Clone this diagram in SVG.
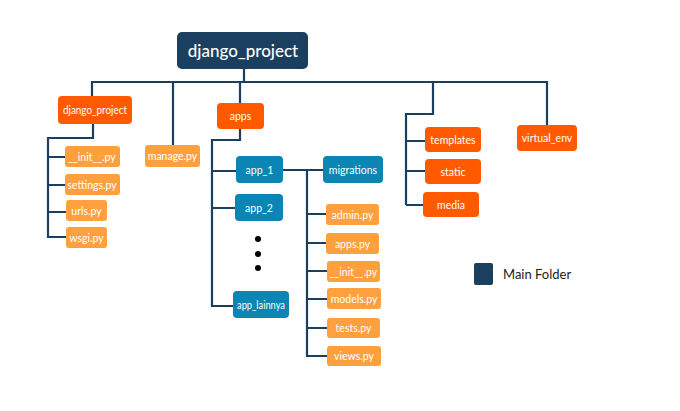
<svg xmlns="http://www.w3.org/2000/svg" width="680" height="411" viewBox="0 0 680 411">
<style>
.ln{fill:none;stroke:#1b3f5f;stroke-width:2.2;stroke-linejoin:miter}
.main{fill:#1b3f5f}
.or{fill:#ff5a00}
.lo{fill:#ffa03f}
.bl{fill:#0a85b4}
text{font-family:"Lato","Open Sans",sans-serif;fill:#fff;text-anchor:middle;dominant-baseline:central;font-size:10.5px}
.t-main{font-size:17px;font-weight:500}
.leg{fill:#222;text-anchor:start;font-size:13px}
</style>
<rect width="680" height="411" fill="#fff"/>
<g id="connectors">
<path class="ln" d="M244 69V82M92 96V82H547V125M173 82V145M240 82V103M433 82V114H406V205M406 141H425M406 171H425M406 205H423"/>
<path class="ln" d="M93 124V138H48V237H66M48 157H65M48 185H65M48 212H66"/>
<path class="ln" d="M240 129V140H212V306H233M212 171H236M212 208H235"/>
<path class="ln" d="M283 170H323M307 170V356H327M307 214H326M307 243H326M307 271H327M307 299H327M307 328H327"/>
</g>
<g id="n-root"><rect class="main" x="177" y="32" width="131" height="37" rx="5"/><text class="t-main" x="243" y="50">django_project</text></g>
<g id="n-django_project"><rect class="or" x="58" y="96" width="74" height="28" rx="4"/><text x="95" y="110" textLength="64" lengthAdjust="spacingAndGlyphs">django_project</text></g>
<g id="n-init1"><rect class="lo" x="65" y="146" width="55" height="21" rx="3"/><text x="92" y="156.5">__init__.py</text></g>
<g id="n-settings"><rect class="lo" x="65" y="174" width="55" height="21" rx="3"/><text x="92" y="184.5">settings.py</text></g>
<g id="n-urls"><rect class="lo" x="66" y="200" width="41" height="21" rx="3"/><text x="86.5" y="210.5">urls.py</text></g>
<g id="n-wsgi"><rect class="lo" x="66" y="227" width="41" height="21" rx="3"/><text x="86.5" y="237.5">wsgi.py</text></g>
<g id="n-manage"><rect class="lo" x="145" y="145" width="55" height="22" rx="3"/><text x="172.5" y="156">manage.py</text></g>
<g id="n-apps"><rect class="or" x="217" y="103" width="47" height="26" rx="4"/><text x="240.5" y="116">apps</text></g>
<g id="n-app1"><rect class="bl" x="236" y="156" width="47" height="27" rx="4"/><text x="259.5" y="169.5">app_1</text></g>
<g id="n-app2"><rect class="bl" x="235" y="194" width="48" height="27" rx="4"/><text x="259" y="207.5">app_2</text></g>
<g id="dots" fill="#000"><circle cx="258" cy="239" r="3"/><circle cx="258" cy="254" r="3"/><circle cx="258" cy="268" r="3"/></g>
<g id="n-applainnya"><rect class="bl" x="233" y="291" width="56" height="27" rx="4"/><text x="261" y="304.5" textLength="48" lengthAdjust="spacingAndGlyphs">app_lainnya</text></g>
<g id="n-migrations"><rect class="bl" x="323" y="156" width="60" height="27" rx="4"/><text x="353" y="169.5">migrations</text></g>
<g id="n-admin"><rect class="lo" x="326" y="204" width="53" height="21" rx="3"/><text x="352.5" y="214.5">admin.py</text></g>
<g id="n-appspy"><rect class="lo" x="326" y="233" width="53" height="21" rx="3"/><text x="352.5" y="243.5">apps.py</text></g>
<g id="n-init2"><rect class="lo" x="327" y="261" width="53" height="21" rx="3"/><text x="353.5" y="271.5">__init__.py</text></g>
<g id="n-models"><rect class="lo" x="327" y="288" width="54" height="21" rx="3"/><text x="354" y="298.5">models.py</text></g>
<g id="n-tests"><rect class="lo" x="327" y="318" width="53" height="20" rx="3"/><text x="353.5" y="328">tests.py</text></g>
<g id="n-views"><rect class="lo" x="327" y="346" width="54" height="20" rx="3"/><text x="354" y="356">views.py</text></g>
<g id="n-templates"><rect class="or" x="425" y="127" width="56" height="25" rx="4"/><text x="453" y="139.5">templates</text></g>
<g id="n-static"><rect class="or" x="425" y="159" width="56" height="25" rx="4"/><text x="453" y="171.5">static</text></g>
<g id="n-media"><rect class="or" x="423" y="192" width="56" height="25" rx="4"/><text x="451" y="204.5">media</text></g>
<g id="n-virtual"><rect class="or" x="517" y="125" width="60" height="26" rx="4"/><text x="547" y="138">virtual_env</text></g>
<g id="legend"><rect class="main" x="474" y="263" width="19" height="22" rx="2"/><text class="leg" x="503" y="274">Main Folder</text></g>
</svg>
